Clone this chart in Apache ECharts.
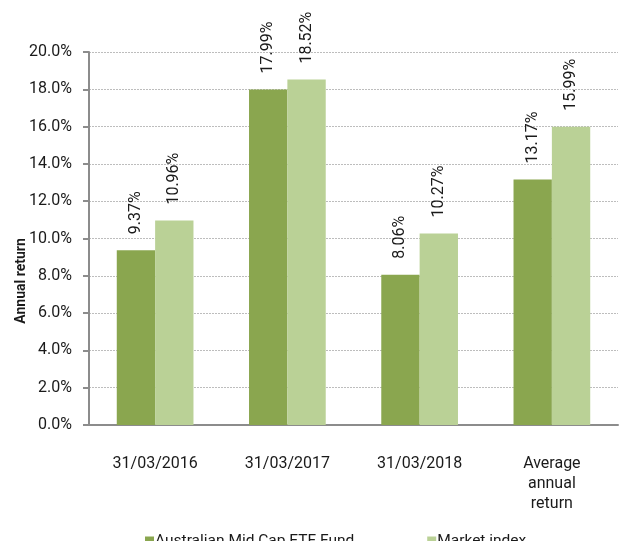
<!DOCTYPE html>
<html>
<head>
<meta charset="utf-8">
<script src="https://cdn.jsdelivr.net/npm/echarts@6/dist/echarts.min.js"></script>
<style>
  html, body { margin: 0; padding: 0; background: #fff; }
  #chart { width: 622px; height: 541px; }
</style>
</head>
<body>
<div id="chart"></div>
<script>
const categories = ["31/03/2016", "31/03/2017", "31/03/2018", "Average\nannual\nreturn"];
const fundReturns = [9.37, 17.99, 8.06, 13.17];
const indexReturns = [10.96, 18.52, 10.27, 15.99];
const seriesNames = ["Australian Mid Cap ETF Fund", "Market index"];

const chart = echarts.init(document.getElementById("chart"));
const font = "Roboto";
const textColor = "#1a1a1a";

const valueLabel = {
  show: true,
  position: "top",
  rotate: 90,
  align: "left",
  verticalAlign: "middle",
  distance: 16,
  color: textColor,
  fontFamily: font,
  fontSize: 16,
  formatter: (p) => p.value.toFixed(2) + "%",
};

chart.setOption({
  animation: false,
  backgroundColor: "#fff",
  textStyle: { fontFamily: font },
  grid: { left: 89, right: 4, top: 52, bottom: 116 },
  legend: {
    top: 533,
    left: 145,
    padding: 0,
    itemWidth: 9,
    itemHeight: 9,
    itemGap: 73,
    icon: "rect",
    textStyle: { color: textColor, fontSize: 15.5, fontFamily: font, padding: [0, 0, 0, -4] },
    data: seriesNames,
  },
  graphic: [
    {
      type: "text",
      x: 21,
      y: 281,
      rotation: Math.PI / 2,
      style: {
        text: "Annual return",
        fontFamily: font,
        fontWeight: "bold",
        fontSize: 14,
        fill: textColor,
        align: "center",
        verticalAlign: "middle",
      },
    },
  ],
  xAxis: {
    type: "category",
    data: categories,
    axisLine: { lineStyle: { color: "#8c8c8c", width: 2 } },
    axisTick: { length: 6, lineStyle: { color: "#8c8c8c", width: 2 } },
    axisLabel: {
      color: textColor,
      fontSize: 16,
      fontFamily: font,
      margin: 29,
      lineHeight: 20,
      verticalAlign: "top",
    },
  },
  yAxis: {
    type: "value",
    min: 0,
    max: 20,
    interval: 2,
    axisLine: { show: true, lineStyle: { color: "#8c8c8c", width: 2 } },
    axisTick: { show: true, length: 6, lineStyle: { color: "#8c8c8c", width: 2 } },
    axisLabel: {
      color: textColor,
      fontSize: 16,
      fontFamily: font,
      margin: 17,
      formatter: (v) => v.toFixed(1) + "%",
    },
    splitLine: { lineStyle: { color: "#bdbdbd", type: [2, 1], width: 1 } },
  },
  series: [
    {
      name: seriesNames[0],
      type: "bar",
      data: fundReturns,
      barGap: "0%",
      barCategoryGap: "42%",
      itemStyle: { color: "#8aa64f" },
      label: valueLabel,
    },
    {
      name: seriesNames[1],
      type: "bar",
      data: indexReturns,
      itemStyle: { color: "#bad196" },
      label: valueLabel,
    },
  ],
});
</script>
</body>
</html>
